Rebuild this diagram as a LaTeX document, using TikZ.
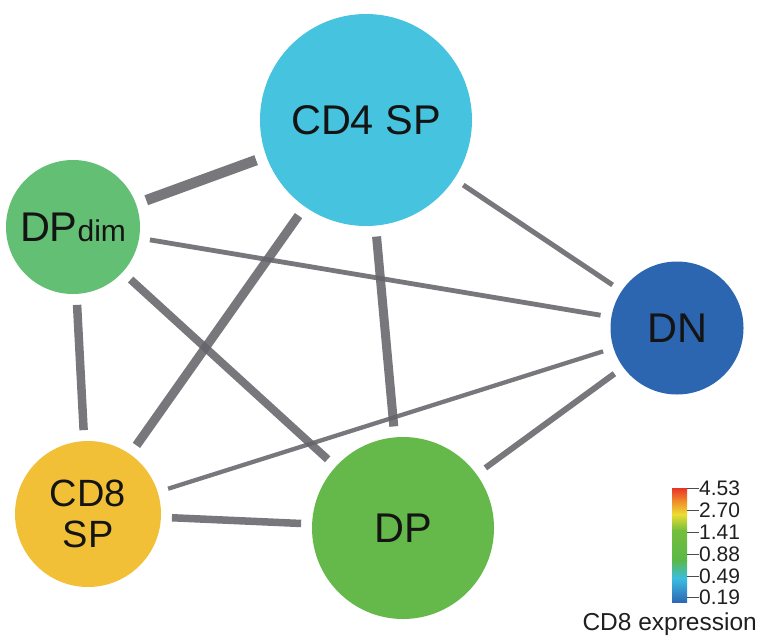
\documentclass[tikz,border=0pt]{standalone}
\usepackage{fontspec}
\setmainfont{Liberation Sans}
\definecolor{cdfour}{RGB}{70,195,222}
\definecolor{dpdimc}{RGB}{99,191,116}
\definecolor{dnc}{RGB}{44,101,176}
\definecolor{cdeight}{RGB}{242,192,55}
\definecolor{dpc}{RGB}{101,185,75}
\definecolor{edgegray}{RGB}{100,100,106}
\definecolor{cbred}{RGB}{232,52,40}
\definecolor{cborange}{RGB}{240,135,40}
\definecolor{cbyellow}{RGB}{236,222,52}
\definecolor{cbgreena}{RGB}{118,190,60}
\definecolor{cbgreenb}{RGB}{90,184,72}
\definecolor{cbcyan}{RGB}{60,190,225}
\definecolor{cbblue}{RGB}{45,105,180}
\tikzset{
  cell/.style={circle, inner sep=0pt, outer sep=0pt, text=black!92},
  link/.style={draw=edgegray, draw opacity=0.88, shorten >=11pt, shorten <=11pt},
  tick/.style={draw=black!70, line width=0.8pt},
  cblabel/.style={anchor=west, inner sep=0pt, font=\fontsize{21}{21}\selectfont, text=black!88}
}
\begin{document}
\begin{tikzpicture}[x=1pt,y=-1pt]
\useasboundingbox (0,0) rectangle (759,635);
% nodes
\node[cell, fill=cdfour, minimum size=212pt, font=\fontsize{41.5}{41.5}\selectfont] (cd4) at (366,120) {CD4 SP};
\node[cell, fill=dpdimc, minimum size=134pt] (dpdim) at (73,227) {\fontsize{41.5}{41.5}\selectfont DP\fontsize{30}{30}\selectfont dim};
\node[cell, fill=dnc, minimum size=133pt, font=\fontsize{41.5}{41.5}\selectfont] (dn) at (677,328) {DN};
\node[cell, fill=cdeight, minimum size=146pt, align=center, font=\fontsize{38}{41}\selectfont] (cd8) at (88,514) {CD8\\SP};
\node[cell, fill=dpc, minimum size=182pt, font=\fontsize{41.5}{41.5}\selectfont] (dp) at (403,528) {DP};
% edges
\draw[link, line width=10.5pt] (dpdim) -- (cd4);
\draw[link, line width=4.8pt] (dpdim) -- (dn);
\draw[link, line width=8pt] (dpdim) -- (dp);
\draw[link, line width=8.5pt] (dpdim) -- (cd8);
\draw[link, line width=9pt] (cd4) -- (cd8);
\draw[link, line width=9pt] (cd4) -- (dp);
\draw[link, line width=5pt] (cd4) -- (dn);
\draw[link, line width=4.3pt] (dn) -- (cd8);
\draw[link, line width=6pt] (dn) -- (dp);
\draw[link, line width=7.5pt] (cd8) -- (dp);
% colour bar
\shade[top color=cbred, bottom color=cborange] (672,488) rectangle (687,500.5);
\shade[top color=cborange, bottom color=cbyellow] (672,500) rectangle (687,514.5);
\shade[top color=cbyellow, bottom color=cbgreena] (672,514) rectangle (687,530.5);
\shade[top color=cbgreena, bottom color=cbgreenb] (672,530) rectangle (687,560.5);
\shade[top color=cbgreenb, bottom color=cbcyan] (672,560) rectangle (687,578.5);
\shade[top color=cbcyan, bottom color=cbblue] (672,578) rectangle (687,602);
\node[cblabel] (l1) at (699,488) {4.53};
\node[cblabel] (l2) at (699,510) {2.70};
\node[cblabel] (l3) at (699,532) {1.41};
\node[cblabel] (l4) at (699,554) {0.88};
\node[cblabel] (l5) at (699,576) {0.49};
\node[cblabel] (l6) at (699,597) {0.19};
\draw[tick] (687,488) -- (l1.west);
\draw[tick] (687,510) -- (l2.west);
\draw[tick] (687,532) -- (l3.west);
\draw[tick] (687,554) -- (l4.west);
\draw[tick] (687,576) -- (l5.west);
\draw[tick] (687,597) -- (l6.west);
\node[anchor=base east, inner sep=0pt, font=\fontsize{24.5}{24.5}\selectfont, text=black!88] (cbtitle) at (757,630) {CD8 expression};
\end{tikzpicture}
\end{document}
